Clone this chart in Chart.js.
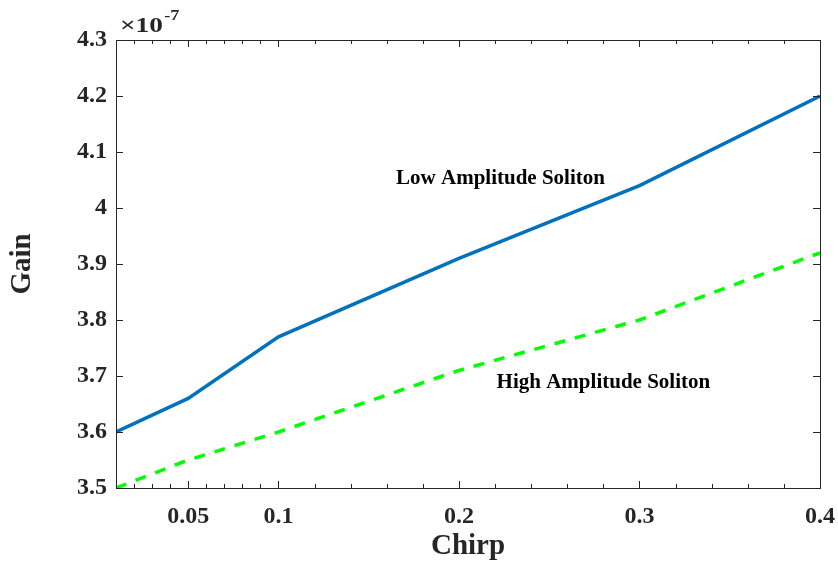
<!DOCTYPE html>
<html>
<head>
<meta charset="utf-8">
<script src="https://cdn.jsdelivr.net/npm/chart.js@4"></script>
<style>
  html, body { margin: 0; padding: 0; background: #fff; }
  #wrap { width: 838px; height: 566px; position: relative; }
</style>
</head>
<body>
<div id="wrap"><canvas id="gainChart"></canvas></div>
<script>
// chirp values and gain (x 1e-7)
const chirp = [0.01, 0.05, 0.1, 0.2, 0.3, 0.4];
const lowAmpGain = [3.60, 3.66, 3.77, 3.91, 4.04, 4.20];
const highAmpGain = [3.50, 3.55, 3.60, 3.71, 3.80, 3.92];
const xLabelTicks = [0.05, 0.1, 0.2, 0.3, 0.4];
const yTicks = [3.5, 3.6, 3.7, 3.8, 3.9, 4.0, 4.1, 4.2, 4.3];

const serif = '"Liberation Serif", "Times New Roman", serif';

// minor ticks: 0.01 steps up to 0.1, 0.02 steps after
const xAllTicks = [];
for (let i = 2; i <= 10; i++) xAllTicks.push(+(i / 100).toFixed(2));
for (let i = 12; i <= 40; i += 2) xAllTicks.push(+(i / 100).toFixed(2));

const fmt = v => (+v.toFixed(2)).toString();

// inward ticks on all four sides + multiplier + annotations
const matlabAxes = {
    id: 'matlabAxes',
    afterDatasetsDraw(chart) {
        const { ctx, chartArea: a, scales: { x, y } } = chart;
        ctx.save();
        ctx.strokeStyle = '#262626';
        ctx.lineWidth = 1;
        ctx.beginPath();
        xAllTicks.forEach(v => {
            const px = Math.round(x.getPixelForValue(v)) + 0.5;
            const major = xLabelTicks.some(t => Math.abs(t - v) < 1e-6);
            const len = major ? 7 : 4;
            ctx.moveTo(px, a.bottom); ctx.lineTo(px, a.bottom - len);
            ctx.moveTo(px, a.top); ctx.lineTo(px, a.top + len);
        });
        yTicks.forEach(v => {
            const py = Math.round(y.getPixelForValue(v)) + 0.5;
            ctx.moveTo(a.left, py); ctx.lineTo(a.left + 7, py);
            ctx.moveTo(a.right, py); ctx.lineTo(a.right - 7, py);
        });
        ctx.stroke();
        ctx.strokeRect(Math.round(a.left) + 0.5, Math.round(a.top) + 0.5,
            Math.round(a.right - a.left), Math.round(a.bottom - a.top));

        ctx.fillStyle = '#000';
        ctx.textBaseline = 'middle';
        ctx.textAlign = 'center';
        ctx.font = 'bold 21px ' + serif;
        ctx.fillText('Low Amplitude Soliton', x.getPixelForValue(0.223), y.getPixelForValue(4.052));
        ctx.fillText('High Amplitude Soliton', x.getPixelForValue(0.28), y.getPixelForValue(3.688));

        // exponent label, a bit stretched like the original
        ctx.fillStyle = '#262626';
        ctx.textAlign = 'left';
        ctx.textBaseline = 'alphabetic';
        ctx.translate(a.left + 4, a.top - 8);
        ctx.scale(1.3, 1);
        ctx.font = 'bold 21px ' + serif;
        ctx.fillText('\u00d710', 0, 0);
        const w = ctx.measureText('\u00d710').width;
        ctx.font = 'bold 14px ' + serif;
        ctx.fillText('-7', w + 1, -12);
        ctx.restore();
    }
};

new Chart(document.getElementById('gainChart'), {
    type: 'line',
    data: {
        datasets: [
            {
                label: 'Low Amplitude Soliton',
                data: chirp.map((c, i) => ({ x: c, y: lowAmpGain[i] })),
                borderColor: '#0072BD',
                borderWidth: 3.5,
                pointRadius: 0,
                tension: 0,
                fill: false
            },
            {
                label: 'High Amplitude Soliton',
                data: chirp.map((c, i) => ({ x: c, y: highAmpGain[i] })),
                borderColor: '#00FF00',
                borderWidth: 3.5,
                borderDash: [11, 10],
                pointRadius: 0,
                tension: 0,
                fill: false
            }
        ]
    },
    options: {
        responsive: true,
        maintainAspectRatio: false,
        animation: false,
        layout: { padding: { top: 40, right: 18, left: 0, bottom: 0 } },
        plugins: {
            legend: { display: false },
            tooltip: { enabled: false }
        },
        scales: {
            x: {
                type: 'linear',
                min: 0.01,
                max: 0.4,
                afterBuildTicks: scale => {
                    scale.ticks = xLabelTicks.map(v => ({ value: v }));
                },
                afterFit: scale => {
                    scale.height = 78;
                    scale.paddingLeft = 0;
                    scale.paddingRight = 0;
                },
                grid: { display: false, drawTicks: false },
                border: { display: false },
                ticks: {
                    color: '#262626',
                    padding: 14,
                    maxRotation: 0,
                    autoSkip: false,
                    font: { family: serif, size: 24, weight: 'bold' },
                    callback: v => fmt(v)
                },
                title: {
                    display: true,
                    text: 'Chirp',
                    color: '#262626',
                    font: { family: serif, size: 29, weight: 'bold' },
                    padding: { top: 0, bottom: 2 }
                }
            },
            y: {
                min: 3.5,
                max: 4.3,
                afterBuildTicks: scale => {
                    scale.ticks = yTicks.map(v => ({ value: v }));
                },
                afterFit: scale => {
                    scale.width = 116;
                    scale.paddingTop = 0;
                    scale.paddingBottom = 0;
                },
                grid: { display: false, drawTicks: false },
                border: { display: false },
                ticks: {
                    color: '#262626',
                    padding: 9,
                    autoSkip: false,
                    font: { family: serif, size: 24, weight: 'bold' },
                    callback: v => fmt(v)
                },
                title: {
                    display: true,
                    text: 'Gain',
                    color: '#262626',
                    font: { family: serif, size: 29, weight: 'bold' },
                    padding: { top: 5, bottom: 0 }
                }
            }
        }
    },
    plugins: [matlabAxes]
});
</script>
</body>
</html>
